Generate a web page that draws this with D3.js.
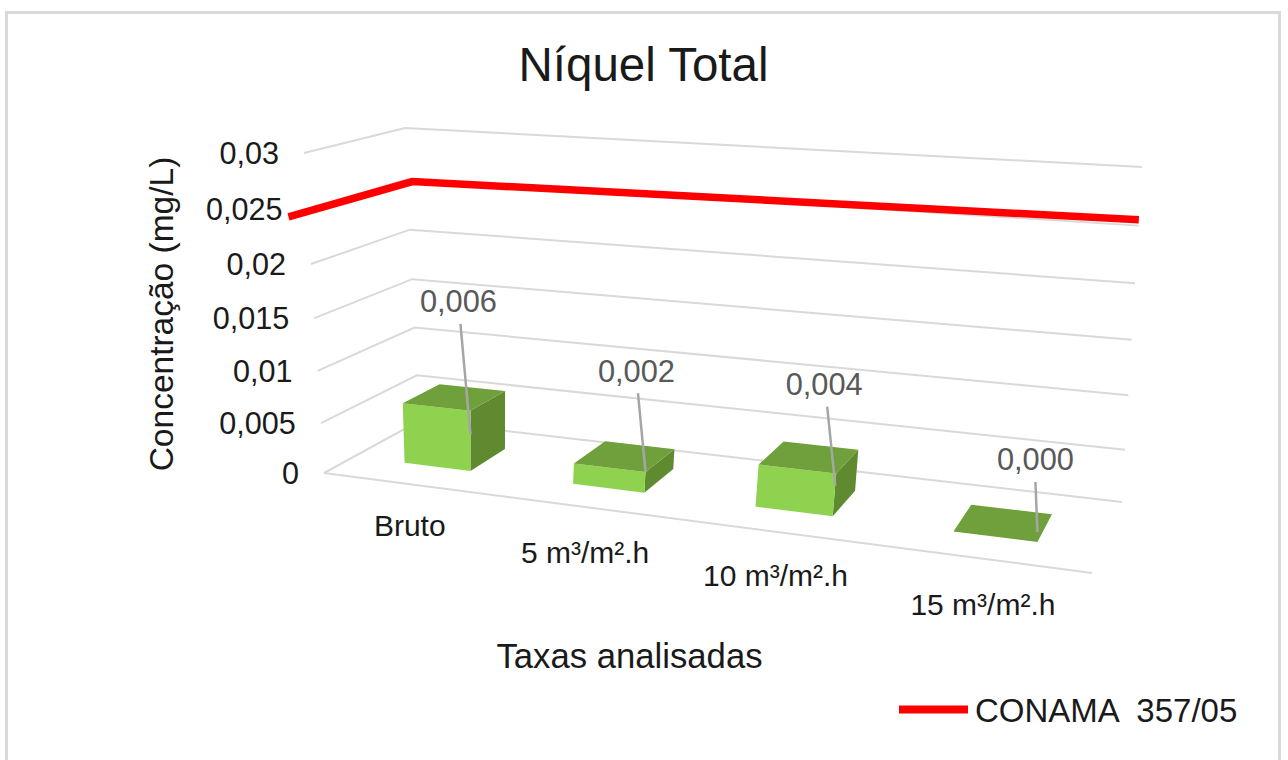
<!DOCTYPE html>
<html lang="pt">
<head>
<meta charset="utf-8">
<title>Níquel Total</title>
<script src="https://cdn.jsdelivr.net/npm/d3@7"></script>
<style>
  html, body { margin: 0; padding: 0; background: #fff; overflow: hidden; }
  text { font-family: "Liberation Sans", Arial, sans-serif; }
</style>
</head>
<body>
<svg id="chart" width="1288" height="760"></svg>
<script>
// Data
const categories = ["Bruto", "5 m³/m².h", "10 m³/m².h", "15 m³/m².h"];
const concentration = [0.006, 0.002, 0.004, 0];
const valueLabels = ["0,006", "0,002", "0,004", "0,000"];
const yTicks = [0, 0.005, 0.01, 0.015, 0.02, 0.025, 0.03];
const yTickLabels = ["0", "0,005", "0,01", "0,015", "0,02", "0,025", "0,03"];
const limitName = "CONAMA  357/05";
const limitValues = [0.0248, 0.0248, 0.0255];

// Scene corners of the 3D plot box: [front-left, front-right, back-right, back-left]
const floorCorners = [[324, 473], [1092, 573], [1122, 502], [419, 421]];
const ceilingCorners = [[304, 153], [1119, 198], [1142, 167], [405, 128]];
// Share of the box height reached at each tick; spacing widens towards the camera
const heightShare = [0, 0.156, 0.319, 0.484, 0.653, 0.825, 1];

// Unit square to quadrilateral projective map
function quadMap([p00, p10, p11, p01]) {
  const dx1 = p10[0] - p11[0], dx2 = p01[0] - p11[0], sx = p00[0] - p10[0] + p11[0] - p01[0];
  const dy1 = p10[1] - p11[1], dy2 = p01[1] - p11[1], sy = p00[1] - p10[1] + p11[1] - p01[1];
  const den = dx1 * dy2 - dx2 * dy1;
  const g = (sx * dy2 - dx2 * sy) / den, h = (dx1 * sy - sx * dy1) / den;
  const a = p10[0] - p00[0] + g * p10[0], b = p01[0] - p00[0] + h * p01[0];
  const d = p10[1] - p00[1] + g * p10[1], e = p01[1] - p00[1] + h * p01[1];
  return (u, w) => {
    const q = g * u + h * w + 1;
    return [(a * u + b * w + p00[0]) / q, (d * u + e * w + p00[1]) / q];
  };
}
const floorMap = quadMap(floorCorners);
const ceilingMap = quadMap(ceilingCorners);

// Scales: category along the width, share of the depth, value along the height
const xBand = d3.scaleBand().domain(categories).range([0.002, 1.002]).paddingInner(0.6).paddingOuter(0.305);
const depth = d3.scaleLinear().domain([0, 1]).range([0.3, 0.7]);
const yValue = d3.scaleLinear().domain(yTicks).range(heightShare);

function project(u, w, v) {
  const a = floorMap(u, w), b = ceilingMap(u, w), t = yValue(v);
  return [a[0] + (b[0] - a[0]) * t, a[1] + (b[1] - a[1]) * t];
}

const svg = d3.select("#chart");
const line = d3.line();

// Outer chart frame
svg.append("rect").attr("x", 6.5).attr("y", 12.5).attr("width", 1273).attr("height", 770)
  .attr("fill", "#fff").attr("stroke", "#d9d9d9").attr("stroke-width", 3);

// Gridlines across side wall and back wall
svg.append("g").selectAll("path").data(yTicks).join("path")
  .attr("d", v => line([project(0, 0, v), project(0, 1, v), project(1, 1, v)]))
  .attr("fill", "none").attr("stroke", "#d9d9d9").attr("stroke-width", 2);

// Front edge of the floor
svg.append("path")
  .attr("d", line([project(0, 0, 0), project(1, 0, 0)]))
  .attr("fill", "none").attr("stroke", "#d9d9d9").attr("stroke-width", 2);

// Reference limit, running in from in front of the side wall and along the back wall
const limitRun = [[0, -0.17], [0.007, 1], [1, 1]];
svg.append("path")
  .attr("d", line(limitValues.map((v, i) => project(limitRun[i][0], limitRun[i][1], v))))
  .attr("fill", "none").attr("stroke", "#ff0000").attr("stroke-width", 7.5);

// Boxes
const faceColors = { front: "#8fd24f", top: "#70a03b", side: "#5f8a30" };
const bars = categories.map((c, i) => ({
  name: c, value: concentration[i], label: valueLabels[i],
  u0: xBand(c), u1: xBand(c) + xBand.bandwidth(), w0: depth(0), w1: depth(1)
}));

const barGroups = svg.append("g").selectAll("g").data(bars).join("g");
const face = (sel, color, corners) => sel.append("path")
  .attr("fill", color)
  .attr("d", d => line(corners(d)) + "Z");

barGroups.filter(d => d.value > 0).call(face, faceColors.side, d => [
  project(d.u1, d.w0, 0), project(d.u1, d.w1, 0), project(d.u1, d.w1, d.value), project(d.u1, d.w0, d.value)
]);
barGroups.filter(d => d.value > 0).call(face, faceColors.front, d => [
  project(d.u0, d.w0, 0), project(d.u1, d.w0, 0), project(d.u1, d.w0, d.value), project(d.u0, d.w0, d.value)
]);
barGroups.call(face, faceColors.top, d => [
  project(d.u0, d.w0, d.value), project(d.u1, d.w0, d.value), project(d.u1, d.w1, d.value), project(d.u0, d.w1, d.value)
]);

// Value labels with leader lines; placement is relative to each box's front-right top corner
const leaderAnchor = [0.61, 1, 0.72, 0];
const labelShift = [[-12, -99], [-9, -90], [-12, -79], [-2, -72]];
const leaderStart = [[2, 12], [1.5, 11], [3, 12], [0, 12]];
bars.forEach((d, i) => {
  const corner = project(d.u1, d.w0, d.value);
  const anchor = project(d.u1, d.w0, d.value * leaderAnchor[i]);
  const lx = corner[0] + labelShift[i][0], ly = corner[1] + labelShift[i][1];
  svg.append("path")
    .attr("d", line([[lx + leaderStart[i][0], ly + leaderStart[i][1]], [anchor[0], anchor[1] - (d.value === 0 ? 10 : 0)]]))
    .attr("fill", "none").attr("stroke", "#a6a6a6").attr("stroke-width", 2.5);
  svg.append("text").attr("x", lx).attr("y", ly).attr("text-anchor", "middle")
    .attr("font-size", 30.8).attr("fill", "#595959").text(d.label);
});

// Value axis labels
svg.append("g").selectAll("text").data(yTicks).join("text")
  .attr("x", v => project(0, 0, v)[0] - 25)
  .attr("y", v => project(0, 0, v)[1])
  .attr("dy", "0.35em")
  .attr("text-anchor", "end").attr("font-size", 30.6).attr("fill", "#1a1a1a")
  .text((v, i) => yTickLabels[i]);

// Category labels below the front edge
const categoryDrop = [52, 56, 54, 56];
svg.append("g").selectAll("text").data(categories).join("text")
  .attr("x", c => project(xBand(c) + xBand.bandwidth() / 2, 0, 0)[0] + 1)
  .attr("y", (c, i) => project(xBand(c) + xBand.bandwidth() / 2, 0, 0)[1] + categoryDrop[i])
  .attr("text-anchor", "middle").attr("font-size", 30).attr("fill", "#1a1a1a")
  .text(c => c);

// Titles
svg.append("text").attr("x", 643.5).attr("y", 81).attr("text-anchor", "middle")
  .attr("font-size", 47.5).attr("fill", "#1a1a1a").text("Níquel Total");
svg.append("text").attr("x", 629.5).attr("y", 668).attr("text-anchor", "middle")
  .attr("font-size", 34.7).attr("fill", "#1a1a1a").text("Taxas analisadas");
svg.append("text").attr("transform", "translate(173,314) rotate(-90)").attr("text-anchor", "middle")
  .attr("font-size", 33.5).attr("fill", "#1a1a1a").text("Concentração (mg/L)");

// Legend
svg.append("path").attr("d", line([[899, 709.5], [968, 709.5]]))
  .attr("stroke", "#ff0000").attr("stroke-width", 8).attr("fill", "none");
svg.append("text").attr("x", 975).attr("y", 722).attr("font-size", 33).attr("fill", "#1a1a1a")
  .style("white-space", "pre").text(limitName);
</script>
</body>
</html>
